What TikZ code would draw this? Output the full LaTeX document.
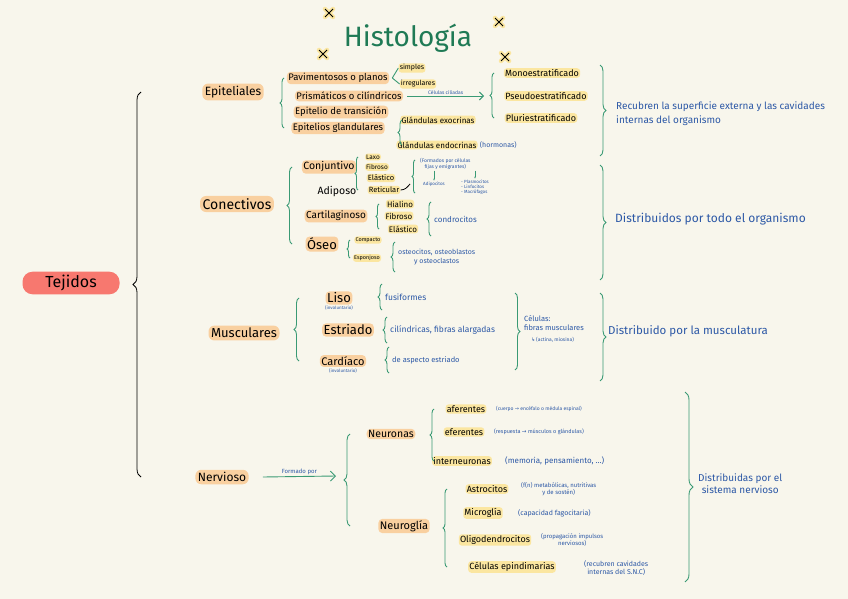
\documentclass[tikz,border=0pt]{standalone}
\usepackage{fontspec}
\setmainfont{Fira Sans}
\newfontfamily\symf{DejaVu Sans}
\usetikzlibrary{arrows.meta,positioning,decorations.pathreplacing}
\definecolor{paper}{HTML}{F8F6EC}
\definecolor{peach}{HTML}{F9D0A0}
\definecolor{lemon}{HTML}{FBE6A0}
\definecolor{salmon}{HTML}{F7786F}
\definecolor{gr}{HTML}{3A9A74}
\definecolor{ink}{HTML}{2C58A6}
\definecolor{ttl}{HTML}{1F7A55}
\newcommand{\fsz}[2]{\fontsize{#1}{#2}\selectfont}

\begin{document}
\begin{tikzpicture}[x=1pt, y=-1pt,
  lv/.style={fill=peach, rounded corners=6pt, inner sep=2.5pt, font=\fsz{13}{15}},
  sb/.style={fill=peach, rounded corners=4pt, inner sep=1.5pt, font=\fsz{9.5}{11}},
  lf/.style={fill=lemon, rounded corners=3pt, inner sep=1.2pt, font=\fsz{9}{10}},
  nt/.style={text=ink, inner sep=1pt, align=center, font=\fsz{7}{8}},
  lk/.style={draw=gr, line width=0.9pt},
  brl/.style={lk, decorate, decoration={brace, amplitude=#1}}, brl/.default=4pt]
  \useasboundingbox[fill=paper] (0,0) rectangle (848,599);

  % titulo
  \node[text=ttl, font=\fsz{28}{30}] (tit) at (408,38) {Histología};
  \foreach \x/\y in {329/13, 499/22, 323/54, 505/57} {
    \draw[lemon, line width=4.5pt, line cap=round] (\x-4,\y-4) -- (\x+4,\y+4) (\x-4,\y+4) -- (\x+4,\y-4);
    \draw[line width=0.8pt] (\x-4,\y-4) -- (\x+4,\y+4) (\x-4,\y+4) -- (\x+4,\y-4);
  }

  % tejidos
  \node[fill=salmon, rounded corners=10pt, minimum width=97pt, minimum height=21pt, font=\fsz{16}{18}] (tej) at (71,283) {Tejidos};
  \node[lv, font=\fsz{12}{14}] (epi) at (233,92) {Epiteliales};
  \node[lv, font=\fsz{14}{16}] (con) at (237,204) {Conectivos};
  \node[lv] (mus) at (244,333) {Musculares};
  \node[lv, font=\fsz{12}{14}] (ner) at (222,477) {Nervioso};
  \coordinate (tb) at (141,0);
  \draw[line width=0.8pt, decorate, decoration={brace, amplitude=8pt}] (ner.west -| tb) -- (epi.west -| tb);

  % epiteliales
  \node[sb] (pav) at (338,78) {Pavimentosos o planos};
  \node[sb] (pri) at (349,96) {Prismáticos o cilíndricos};
  \node[sb] (tra) at (341,112) {Epitelio de transición};
  \node[sb] (gla) at (338,128) {Epitelios glandulares};
  \coordinate (eb) at (284,0);
  \draw[brl] (gla.west -| eb) -- (pav.west -| eb);

  \node[lf, font=\fsz{7}{8}] (sim) at (412,68) {simples};
  \node[lf, font=\fsz{7}{8}] (irr) at (418,84) {irregulares};
  \draw[lk] ([xshift=3pt]pav.east) -- (sim.west) ([xshift=3pt]pav.east) -- (irr.west);

  \coordinate (ca) at (484,96);
  \draw[lk, -{Straight Barb[length=4pt, width=8pt]}] ([xshift=4pt]pri.east) -- node[nt, above, font=\fsz{5}{6}] (cc) {Células ciliadas} (ca);

  \node[lf] (mon) at (542,73) {Monoestratificado};
  \node[lf] (pse) at (546,96) {Pseudoestratificado};
  \node[lf] (plu) at (541,118) {Pluriestratificado};
  \coordinate (mb) at (494,0);
  \draw[brl] (plu.west -| mb) -- (mon.west -| mb);

  \node[lf, font=\fsz{8}{9}] (exo) at (438,120) {Glándulas exocrinas};
  \node[lf, font=\fsz{8}{9}] (edc) at (437,145) {Glándulas endocrinas};
  \node[nt, right=1pt of edc] (hor) {(hormonas)};
  \coordinate (gb) at (402,0);
  \draw[brl] (edc.west -| gb) -- (exo.west -| gb);

  \coordinate (r1) at (600,65);
  \coordinate (r2) at (600,156);
  \draw[brl=6pt] (r1) -- (r2);
  \node[nt, anchor=west, align=left, font=\fsz{10}{14}] (rec) at (615,114) {Recubren la superficie externa y las cavidades\\internas del organismo};

  % conectivos
  \node[sb, font=\fsz{10.5}{12}] (cjt) at (329,167) {Conjuntivo};
  \node[font=\fsz{10.5}{12}] (adi) at (337,192) {Adiposo};
  \node[sb, font=\fsz{10}{12}] (car) at (336,216) {Cartilaginoso};
  \node[sb, font=\fsz{13}{15}] (ose) at (322,244) {Óseo};
  \coordinate (cb) at (292,0);
  \draw[brl=5pt] (ose.west -| cb) -- (cjt.west -| cb);

  \node[lf, font=\fsz{6.5}{7}] (lax) at (373,157) {Laxo};
  \node[lf, font=\fsz{6.5}{7}] (fib) at (377,167) {Fibroso};
  \node[lf, font=\fsz{7.5}{8}] (ela) at (381,178) {Elástico};
  \node[lf, font=\fsz{7.5}{8}] (ret) at (384,190) {Reticular};
  \coordinate (jb) at (358,0);
  \draw[brl=3pt] (ret.west -| jb) -- (lax.west -| jb);

  \node[nt, anchor=north west, font=\fsz{5}{6}] (fij) at (419,157) {(Formados por células\\fijas y emigrantes)};
  \node[nt, font=\fsz{4.5}{5}] (adc) at (434,184) {Adipocitos};
  \node[nt, align=left, font=\fsz{4.5}{5}] (emi) at (475,187) {- Plasmocitos\\- Linfocitos\\- Macrófagos};
  \draw[lk, line width=0.5pt, -{Stealth[length=2pt]}] (fij.south -| adc) -- (adc.north);
  \draw[lk, line width=0.5pt, -{Stealth[length=2pt]}] (fij.south -| emi) -- (emi.north);
  \coordinate (f1) at (415,160);
  \coordinate (f2) at (415,193);
  \draw[brl=3pt] (f2) -- (f1);
  \coordinate (fm) at (410,184);
  \draw[line width=0.8pt] (ret.east) to[out=0, in=230] (fm);

  \node[lf, font=\fsz{8}{9}] (hia) at (400,204) {Hialino};
  \node[lf, font=\fsz{8}{9}] (fi2) at (399,216) {Fibroso};
  \node[lf, font=\fsz{8}{9}] (el2) at (403,229) {Elástico};
  \coordinate (kb) at (379,0);
  \draw[brl=3pt] (el2.west -| kb) -- (hia.west -| kb);
  \node[nt, anchor=west, font=\fsz{8}{9}] (cdr) at (433,219) {condrocitos};
  \draw[brl] ([xshift=-2pt,yshift=-17pt]cdr.west) -- ([xshift=-2pt,yshift=17pt]cdr.west);

  \node[lf, font=\fsz{5.5}{6}] (cmp) at (368,240) {Compacto};
  \node[lf, font=\fsz{5.5}{6}] (esp) at (367,258) {Esponjoso};
  \coordinate (ob) at (350,0);
  \draw[brl=3pt] (esp.west -| ob) -- (cmp.west -| ob);
  \node[nt, anchor=west, font=\fsz{7}{9}] (ocs) at (397,257) {osteocitos, osteoblastos\\y osteoclastos};
  \draw[brl] ([xshift=-2pt,yshift=-15pt]ocs.west) -- ([xshift=-2pt,yshift=15pt]ocs.west);

  \coordinate (r3) at (600,165);
  \coordinate (r4) at (600,280);
  \draw[brl=6pt] (r3) -- (r4);
  \node[nt, anchor=west, font=\fsz{12}{14}] (dto) at (614,219) {Distribuidos por todo el organismo};

  % musculares
  \node[sb, font=\fsz{13}{15}] (lis) at (339,298) {Liso};
  \node[nt, font=\fsz{4.5}{5}, below=0pt of lis] (iv1) {(involuntario)};
  \node[sb, font=\fsz{13}{15}] (est) at (348,330) {Estriado};
  \node[sb, font=\fsz{11}{13}] (crd) at (343,361) {Cardíaco};
  \node[nt, font=\fsz{4.5}{5}, below=0pt of crd] (iv2) {(involuntario)};
  \coordinate (ub) at (299,0);
  \draw[brl=5pt] (crd.west -| ub) -- (lis.west -| ub);

  \node[nt, anchor=west, font=\fsz{8.5}{10}] (fus) at (384,297) {fusiformes};
  \draw[brl] ([xshift=-2pt,yshift=-13pt]fus.west) -- ([xshift=-2pt,yshift=13pt]fus.west);
  \node[nt, anchor=west, font=\fsz{8.5}{10}] (cil) at (389,330) {cilíndricas, fibras alargadas};
  \draw[brl] ([xshift=-2pt,yshift=-13pt]cil.west) -- ([xshift=-2pt,yshift=13pt]cil.west);
  \node[nt, anchor=west, font=\fsz{7.5}{9}] (asp) at (391,360) {de aspecto estriado};
  \draw[brl] ([xshift=-2pt,yshift=-13pt]asp.west) -- ([xshift=-2pt,yshift=13pt]asp.west);

  \coordinate (r5) at (515,293);
  \coordinate (r6) at (515,370);
  \draw[brl=5pt] (r5) -- (r6);
  \node[nt, anchor=west, align=left, font=\fsz{7.5}{9}] (cel) at (523,323) {Células:\\fibras musculares};
  \node[nt, anchor=north west, font=\fsz{5}{6}] (act) at (530,336) {{\symf ↳}\,(actina, miosina)};

  \coordinate (r7) at (600,293);
  \coordinate (r8) at (600,381);
  \draw[brl=6pt] (r7) -- (r8);
  \node[nt, anchor=west, font=\fsz{11.5}{13}] (dmu) at (607,331) {Distribuido por la musculatura};

  % nervioso
  \coordinate (fa) at (336,476);
  \draw[lk, -{Straight Barb[length=5pt, width=10pt]}] ([xshift=14pt]ner.east) -- node[nt, above, font=\fsz{6}{7}] (fpo) {Formado por} (fa);
  \node[sb, font=\fsz{10.5}{12}] (neu) at (391,434) {Neuronas};
  \node[sb, font=\fsz{11}{13}] (nrg) at (404,526) {Neuroglía};
  \coordinate (nb) at (350,0);
  \draw[brl=6pt] (nrg.west -| nb) -- (neu.west -| nb);

  \node[lf] (afe) at (466,409) {aferentes};
  \node[lf] (efe) at (464,432) {eferentes};
  \node[lf] (itn) at (462,461) {interneuronas};
  \coordinate (eb2) at (434,0);
  \draw[brl] (itn.west -| eb2) -- (afe.west -| eb2);
  \node[nt, anchor=west, font=\fsz{5}{6}] (n1) at (495,409) {(cuerpo {\symf →} encéfalo o médula espinal)};
  \node[nt, anchor=west, font=\fsz{5.5}{6}] (n2) at (493,432) {(respuesta {\symf →} músculos o glándulas)};
  \node[nt, anchor=west, font=\fsz{8}{9}] (n3) at (504,461) {(memoria, pensamiento, \dots)};

  \node[lf] (ast) at (487,489) {Astrocitos};
  \node[lf] (mic) at (483,513) {Microglía};
  \node[lf] (oli) at (495,540) {Oligodendrocitos};
  \node[lf] (cep) at (512,567) {Células epindimarias};
  \coordinate (gb2) at (447,0);
  \draw[brl] (cep.west -| gb2) -- (ast.west -| gb2);
  \node[nt, anchor=west, font=\fsz{6}{7}] (g1) at (520,489) {(f(n) metabólicas, nutritivas\\y de sostén)};
  \node[nt, anchor=west, font=\fsz{7}{8}] (g2) at (517,513) {(capacidad fagocitaria)};
  \node[nt, anchor=west, font=\fsz{6}{7}] (g3) at (540,540) {(propagación impulsos\\nerviosos)};
  \node[nt, anchor=west, font=\fsz{7}{8}] (g4) at (583,568) {(recubren cavidades\\internas del S.N.C)};

  \coordinate (r9) at (685,392);
  \coordinate (r10) at (685,582);
  \draw[brl=8pt] (r9) -- (r10);
  \node[nt, anchor=west, font=\fsz{10}{12}] (dsn) at (697,484) {Distribuidas por el\\sistema nervioso};
\end{tikzpicture}
\end{document}
